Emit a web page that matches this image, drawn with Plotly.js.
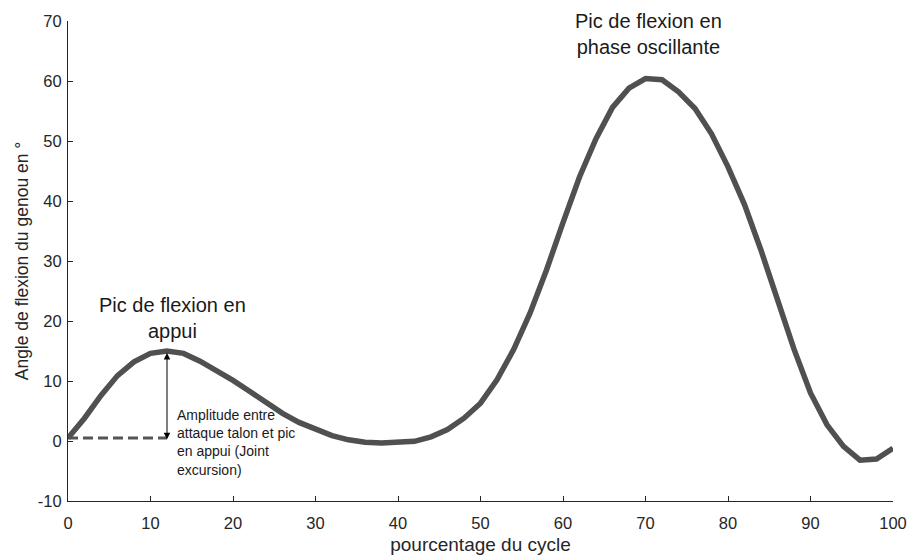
<!DOCTYPE html>
<html>
<head>
<meta charset="utf-8">
<script src="https://cdn.plot.ly/plotly-3.0.1.min.js"></script>
<style>html,body{margin:0;padding:0;background:#fff;}#chart{width:909px;height:559px;}</style>
</head>
<body>
<div id="chart"></div>
<script>
// Percentage of the gait cycle
const cyclePct = [0,2,4,6,8,10,12,14,16,18,20,22,24,26,28,30,32,34,36,38,40,42,44,46,48,50,52,54,56,58,60,62,64,66,68,70,72,74,76,78,80,82,84,86,88,90,92,94,96,98,100];
// Knee flexion angle (degrees)
const kneeAngle = [0.5,3.8,7.6,10.9,13.2,14.6,15.0,14.6,13.3,11.8,10.1,8.3,6.4,4.6,3.1,1.9,0.9,0.2,-0.2,-0.35,-0.3,-0.05,0.7,1.9,3.8,6.3,10.2,15.2,21.3,28.5,36.4,44.0,50.4,55.6,58.8,60.4,60.2,58.2,55.4,51.2,45.7,39.4,31.8,23.5,15.3,8.0,2.7,-0.9,-3.2,-3.0,-1.2];
// Baseline (heel strike) dashed reference
const baselineX = [0, 12];
const baselineY = [0.5, 0.5];
// Annotation anchor values
const stancePeak = {x: 12, y: 14.9};
const heelStrike = {x: 12, y: 0.3};
const xTicks = [0,10,20,30,40,50,60,70,80,90,100];
const yTicks = [-10,0,10,20,30,40,50,60,70];

const font = "Liberation Sans, Arial, Helvetica, sans-serif";
const axisColor = "#262626";
const textColor = "#1a1a1a";

const traces = [
  {x: baselineX, y: baselineY, mode: "lines", line: {color: "#555555", width: 3, dash: "10px,5px"}, hoverinfo: "skip", showlegend: false},
  {x: cyclePct, y: kneeAngle, mode: "lines", line: {color: "#505050", width: 5.5, shape: "linear"}, showlegend: false}
];

const layout = {
  width: 909, height: 559,
  margin: {l: 68, r: 16, t: 21, b: 58},
  paper_bgcolor: "#ffffff", plot_bgcolor: "#ffffff",
  showlegend: false,
  font: {family: font, color: axisColor, size: 16},
  xaxis: {
    range: [0, 100], tickvals: xTicks, ticktext: xTicks.map(String),
    showgrid: false, zeroline: false, showline: true, linecolor: axisColor, linewidth: 1,
    ticks: "inside", ticklen: 5, tickcolor: axisColor, tickfont: {size: 16.5, color: axisColor},
    ticklabelstandoff: 7,
    title: {text: "pourcentage du cycle", font: {size: 19, color: axisColor}, standoff: 6}
  },
  yaxis: {
    range: [-10, 70], tickvals: yTicks, ticktext: yTicks.map(String),
    showgrid: false, zeroline: false, showline: true, linecolor: axisColor, linewidth: 1,
    ticks: "inside", ticklen: 5, tickcolor: axisColor, tickfont: {size: 16.5, color: axisColor},
    ticklabelstandoff: 2,
    title: {text: "Angle de flexion du genou en °", font: {size: 17.5, color: axisColor}, standoff: 4}
  },
  annotations: [
    {x: heelStrike.x, y: heelStrike.y, ax: stancePeak.x, ay: stancePeak.y, axref: "x", ayref: "y", xref: "x", yref: "y",
     showarrow: true, arrowhead: 2, startarrowhead: 2, arrowside: "end+start", arrowsize: 1.3, startarrowsize: 1.3, arrowwidth: 1, arrowcolor: "#000000", text: ""},
    {x: 12.7, y: 20.5, xref: "x", yref: "y", text: "Pic de flexion en<br>appui", showarrow: false,
     font: {size: 20, color: textColor, family: font}, align: "center", yanchor: "middle", xanchor: "center"},
    {x: 70.4, y: 67.9, xref: "x", yref: "y", text: "Pic de flexion en<br>phase oscillante", showarrow: false,
     font: {size: 20, color: textColor, family: font}, align: "center", yanchor: "middle", xanchor: "center"},
    {x: 13.0, y: -0.25, xref: "x", yref: "y", text: "Amplitude entre<br>attaque talon et pic<br>en appui (Joint<br>excursion)", showarrow: false,
     font: {size: 14, color: textColor, family: font}, align: "left", yanchor: "middle", xanchor: "left"}
  ]
};

Plotly.newPlot("chart", traces, layout, {displayModeBar: false, staticPlot: true});
</script>
</body>
</html>
